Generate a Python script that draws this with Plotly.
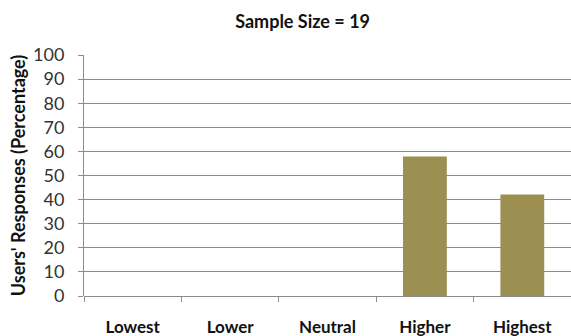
import plotly.graph_objects as go

categories = ["Lowest", "Lower", "Neutral", "Higher", "Highest"]
percentages = [0, 0, 0, 57.89, 42.11]
y_ticks = [0, 10, 20, 30, 40, 50, 60, 70, 80, 90, 100]

FONT = "Lato, 'Open Sans', sans-serif"
GRID = "#8c8c8c"

fig = go.Figure(
    go.Bar(
        x=categories,
        y=percentages,
        marker=dict(color="#9c8f52", line=dict(width=0)),
        width=0.45,
    )
)

fig.update_layout(
    width=571,
    height=336,
    margin=dict(l=84, r=0, t=55, b=40),
    paper_bgcolor="white",
    plot_bgcolor="white",
    showlegend=False,
    title=dict(
        text="<b>Sample Size = 19</b>",
        x=0.53,
        xanchor="center",
        xref="container",
        y=1 - 22 / 336,
        yanchor="middle",
        font=dict(family=FONT, size=18, color="#111"),
    ),
    font=dict(family=FONT, color="#222"),
)

fig.update_xaxes(
    type="category",
    tickson="boundaries",
    ticks="outside",
    ticklen=5,
    tickcolor=GRID,
    showline=False,
    showgrid=False,
    zeroline=False,
    ticklabelstandoff=19,
    tickfont=dict(family=FONT, size=17, color="#111", weight="bold"),
)

fig.update_yaxes(
    range=[0, 100],
    tickvals=y_ticks,
    ticks="outside",
    ticklen=5,
    tickcolor=GRID,
    showline=True,
    linecolor=GRID,
    linewidth=1,
    showgrid=True,
    gridcolor=GRID,
    gridwidth=1,
    zeroline=True,
    zerolinecolor=GRID,
    zerolinewidth=1,
    ticklabelstandoff=10,
    tickfont=dict(family=FONT, size=18, color="#333"),
    title=dict(
        text="<b>Users' Responses (Percentage)</b>",
        font=dict(family=FONT, size=18, color="#111"),
        standoff=2,
    ),
)

fig.write_html("out.html")
